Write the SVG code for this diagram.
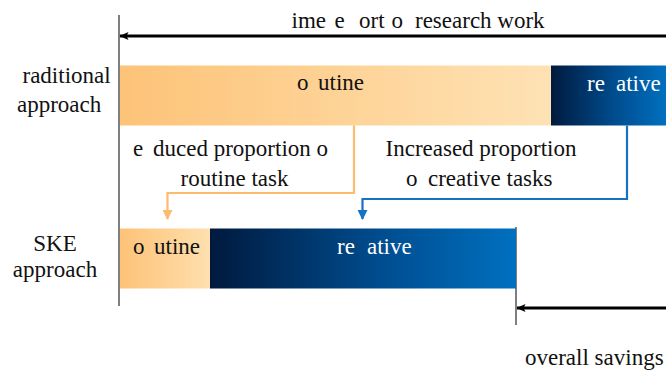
<svg xmlns="http://www.w3.org/2000/svg" width="666" height="371" viewBox="0 0 666 371" font-family="'Liberation Serif', 'Times New Roman', serif">
<style>
text{font-family:'Liberation Serif','Times New Roman',serif;font-size:23px;fill:#111;white-space:pre}
.w{fill:#fff}
.ax{stroke:#555;stroke-width:1.5;fill:none}
.ar{stroke:#000;stroke-width:3;fill:none}
.oc{stroke:#FDBB6E;stroke-width:2.2;fill:none}
.bc{stroke:#1672C4;stroke-width:2.2;fill:none}
</style>
<defs>
<linearGradient id="og" x1="0" y1="0" x2="1" y2="0"><stop offset="0" stop-color="#FDC378"/><stop offset="1" stop-color="#FEE2B4"/></linearGradient>
<linearGradient id="og2" x1="0" y1="0" x2="1" y2="0"><stop offset="0" stop-color="#FDC378"/><stop offset="1" stop-color="#FEDFAE"/></linearGradient>
<linearGradient id="bg" x1="0" y1="0" x2="1" y2="0"><stop offset="0" stop-color="#001A3E"/><stop offset="0.55" stop-color="#004C8E"/><stop offset="1" stop-color="#0070C0"/></linearGradient>
<marker id="ak" markerWidth="10" markerHeight="8" refX="8.5" refY="4" orient="auto" markerUnits="userSpaceOnUse"><path d="M9,4 L0,0 L2,4 L0,8 Z" fill="#000"/></marker>
<marker id="ao" markerWidth="10" markerHeight="10" refX="5" refY="9" orient="0" markerUnits="userSpaceOnUse"><path d="M0,0 L10,0 L5,10 Z" fill="#FDBB6E"/></marker>
<marker id="ab" markerWidth="10" markerHeight="10" refX="5" refY="9" orient="0" markerUnits="userSpaceOnUse"><path d="M0,0 L10,0 L5,10 Z" fill="#1672C4"/></marker>
</defs>
<g id="axes">
<line class="ax" x1="119" y1="15" x2="119" y2="306"/>
<line class="ax" x1="516" y1="227" x2="516" y2="325"/>
</g>
<g id="title">
<text y="28"><tspan x="291.5">ime</tspan><tspan x="334.5">e</tspan><tspan x="359">ort</tspan><tspan x="391.5">o</tspan><tspan x="415">research work</tspan></text>
</g>
<g id="traditional-label">
<text x="22.5" y="83">raditional</text>
<text x="17" y="112">approach</text>
</g>
<g id="traditional-routine">
<rect x="120" y="65.5" width="431" height="60" fill="url(#og)"/>
<text y="90"><tspan x="297">o</tspan><tspan x="318">utine</tspan></text>
</g>
<g id="traditional-creative">
<rect x="551" y="65.5" width="115" height="60" fill="url(#bg)"/>
<text class="w" y="91"><tspan x="587">re</tspan><tspan x="616">ative</tspan></text>
</g>
<g id="reduced-label">
<text y="156"><tspan x="133">e</tspan><tspan x="153">duced proportion o</tspan></text>
<text x="234.5" y="186" text-anchor="middle">routine task</text>
</g>
<g id="increased-label">
<text x="481" y="156" text-anchor="middle">Increased proportion</text>
<text y="186"><tspan x="406">o</tspan><tspan x="428">creative tasks</tspan></text>
</g>
<g id="ske-label">
<text x="55" y="250.5" text-anchor="middle">SKE</text>
<text x="55" y="277" text-anchor="middle">approach</text>
</g>
<g id="ske-routine">
<rect x="120" y="228.5" width="90" height="60" fill="url(#og2)"/>
<text y="253.5"><tspan x="133">o</tspan><tspan x="154">utine</tspan></text>
</g>
<g id="ske-creative">
<rect x="210" y="228.5" width="306" height="60" fill="url(#bg)"/>
<text class="w" y="253.5"><tspan x="337">re</tspan><tspan x="367">ative</tspan></text>
</g>
<g id="savings-label">
<text x="525" y="365">overall savings</text>
</g>
<g id="connectors">
<line class="ar" x1="666" y1="36" x2="120" y2="36" marker-end="url(#ak)"/>
<line class="ar" x1="666" y1="308" x2="517" y2="308" marker-end="url(#ak)"/>
<polyline class="oc" points="354,125.5 354,193 167.5,193 167.5,219" marker-end="url(#ao)"/>
<polyline class="bc" points="627,125.5 627,199 362.5,199 362.5,219" marker-end="url(#ab)"/>
</g>
</svg>
